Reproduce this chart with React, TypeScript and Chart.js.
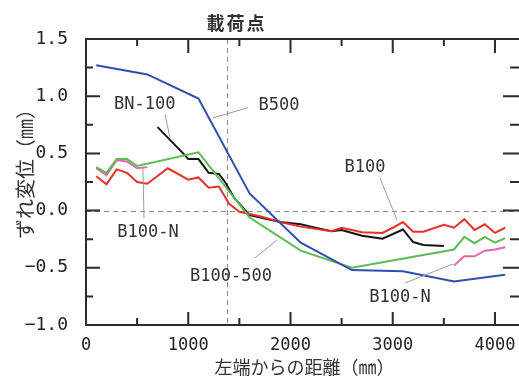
import { useEffect, useRef } from "react";
import { Chart, registerables } from "chart.js";

Chart.register(...registerables);

// ---- data (mm, mm) ----
const b500X = [100, 600, 1100, 1600, 2100, 2600, 3100, 3600, 4100];
const b500Y = [1.27, 1.19, 0.98, 0.15, -0.28, -0.52, -0.53, -0.62, -0.56];

const b100_500X = [100, 200, 300, 400, 500, 1100, 1600, 2100, 2600, 3600, 3700, 3800, 3900, 4000, 4100];
const b100_500Y = [0.38, 0.33, 0.45, 0.45, 0.39, 0.51, -0.06, -0.35, -0.5, -0.34, -0.23, -0.285, -0.23, -0.28, -0.24];

const b100X = [100, 200, 300, 400, 500, 600, 800, 1000, 1100, 1200, 1300, 1400, 1500, 1700, 1900, 2100, 2400, 2500, 2700, 2900, 3000, 3100, 3200, 3300, 3500, 3600, 3700, 3800, 3900, 4000, 4100];
const b100Y = [0.3, 0.23, 0.36, 0.33, 0.25, 0.235, 0.37, 0.27, 0.29, 0.2, 0.21, 0.06, -0.01, -0.05, -0.1, -0.14, -0.18, -0.15, -0.19, -0.195, -0.15, -0.1, -0.185, -0.185, -0.125, -0.15, -0.075, -0.17, -0.12, -0.195, -0.15];

const bn100X = [700, 950, 1000, 1100, 1200, 1300, 1360, 1450, 1600, 1900, 2100, 2200, 2400, 2500, 2700, 2900, 3100, 3200, 3300, 3500];
const bn100Y = [0.73, 0.5, 0.45, 0.45, 0.33, 0.32, 0.25, 0.11, -0.04, -0.1, -0.12, -0.14, -0.18, -0.17, -0.22, -0.245, -0.165, -0.275, -0.3, -0.31];

const b100nLeftX = [100, 200, 300, 400, 500, 600];
const b100nLeftY = [0.37, 0.31, 0.44, 0.43, 0.37, 0.38];
const b100nRightX = [3600, 3700, 3800, 3900, 4000, 4100];
const b100nRightY = [-0.48, -0.4, -0.4, -0.35, -0.34, -0.32];

const xTickValues = [0, 1000, 2000, 3000, 4000];
const yTickValues = [-1.0, -0.5, 0.0, 0.5, 1.0, 1.5];

const loadPointX = 1375;
const xMin = 0;
const xMax = 4235;
const yMin = -1.0;
const yMax = 1.5;
const xMajor = 1000;
const yMajor = 0.5;

const xTitle = "左端からの距離（㎜）";
const yTitle = "ずれ変位（㎜）";
const loadPointLabel = "載荷点";

// series labels with leader lines (data units)
const seriesLabels = [
  { text: "BN-100", tx: 575, ty: 0.93, x1: 773, y1: 0.84, x2: 821, y2: 0.64 },
  { text: "B500", tx: 1888, ty: 0.92, x1: 1242, y1: 0.81, x2: 1584, y2: 0.9 },
  { text: "B100", tx: 2729, ty: 0.38, x1: 2875, y1: 0.285, x2: 3042, y2: -0.082 },
  { text: "B100-N", tx: 606, ty: -0.196, x1: 557, y1: 0.372, x2: 567, y2: -0.065 },
  { text: "B100-500", tx: 1418, ty: -0.58, x1: 1653, y1: -0.414, x2: 1868, y2: -0.257 },
  { text: "B100-N", tx: 3071, ty: -0.764, x1: 3120, y1: -0.633, x2: 3589, y2: -0.467 },
];

const toPts = (xs: number[], ys: number[]) => xs.map((x, i) => ({ x, y: ys[i] }));

const MONO = '"DejaVu Sans Mono", monospace';
const CJK = '"Noto Sans CJK JP", sans-serif';

const decorPlugin = {
  id: "decor",
  beforeDatasetsDraw(chart: any) {
    const { ctx, chartArea: a, scales } = chart;
    const xs = scales.x;
    const ys = scales.y;
    ctx.save();
    ctx.strokeStyle = "#8a8a8a";
    ctx.lineWidth = 1;
    ctx.setLineDash([5, 4]);
    const lx = Math.round(xs.getPixelForValue(loadPointX)) + 0.5;
    ctx.beginPath();
    ctx.moveTo(lx, a.top);
    ctx.lineTo(lx, a.bottom);
    const zy = Math.round(ys.getPixelForValue(0)) + 0.5;
    ctx.moveTo(a.left, zy);
    ctx.lineTo(a.right, zy);
    ctx.stroke();
    ctx.restore();
  },
  afterDatasetsDraw(chart: any) {
    const { ctx, chartArea: a, scales } = chart;
    const xs = scales.x;
    const ys = scales.y;
    ctx.save();
    // leader lines
    ctx.strokeStyle = "#9a9a9a";
    ctx.lineWidth = 1;
    ctx.beginPath();
    for (const l of seriesLabels) {
      ctx.moveTo(xs.getPixelForValue(l.x1), ys.getPixelForValue(l.y1));
      ctx.lineTo(xs.getPixelForValue(l.x2), ys.getPixelForValue(l.y2));
    }
    ctx.stroke();
    // frame
    ctx.strokeStyle = "#2b2b2b";
    ctx.lineWidth = 2;
    ctx.beginPath();
    ctx.moveTo(a.right, a.top);
    ctx.lineTo(a.left, a.top);
    ctx.lineTo(a.left, a.bottom);
    ctx.lineTo(a.right, a.bottom);
    ctx.stroke();
    // ticks
    ctx.beginPath();
    for (let v = xMin; v <= xMax + 1e-6; v += xMajor / 2) {
      const major = Math.abs(v / xMajor - Math.round(v / xMajor)) < 1e-6;
      const px = xs.getPixelForValue(v);
      if (px <= a.left + 1) continue;
      const lb = major ? 13 : 7;
      const lt = major ? 14 : 7;
      ctx.moveTo(px, a.bottom);
      ctx.lineTo(px, a.bottom - lb);
      ctx.moveTo(px, a.top);
      ctx.lineTo(px, a.top + lt);
    }
    for (let v = yMin; v <= yMax + 1e-6; v += yMajor / 2) {
      const major = Math.abs(v / yMajor - Math.round(v / yMajor)) < 1e-6;
      const py = ys.getPixelForValue(v);
      if (py >= a.bottom - 1 || py <= a.top + 1) continue;
      const ll = major ? 14 : 7;
      const lr = major ? 16 : 9;
      ctx.moveTo(a.left, py);
      ctx.lineTo(a.left + ll, py);
      ctx.moveTo(a.right, py);
      ctx.lineTo(a.right - lr, py);
    }
    ctx.stroke();
    // series labels
    ctx.fillStyle = "#333";
    ctx.font = `17px ${MONO}`;
    ctx.textAlign = "center";
    ctx.textBaseline = "middle";
    for (const l of seriesLabels) {
      ctx.fillText(l.text, xs.getPixelForValue(l.tx), ys.getPixelForValue(l.ty));
    }
    // load point label
    ctx.font = `bold 18px ${CJK}`;
    try { (ctx as any).letterSpacing = "2px"; } catch (e) {}
    ctx.fillText(loadPointLabel, xs.getPixelForValue(loadPointX) + 10, a.top - 16);
    try { (ctx as any).letterSpacing = "0px"; } catch (e) {}
    // axis titles
    ctx.font = `18px ${CJK}`;
    ctx.fillText(xTitle, (a.left + a.right) / 2 + 2, a.bottom + 42);
    ctx.translate(25, (a.top + a.bottom) / 2 - 13);
    ctx.rotate(-Math.PI / 2);
    ctx.font = `20px ${CJK}`;
    ctx.fillText(yTitle, 0, 0);
    ctx.restore();
  },
};

export default function App() {
  const ref = useRef<HTMLCanvasElement | null>(null);
  useEffect(() => {
    if (!ref.current) return;
    const lineDs = (label: string, xs: number[], ys: number[], color: string) => ({
      label,
      data: toPts(xs, ys),
      borderColor: color,
      backgroundColor: color,
      borderWidth: 2,
      pointRadius: 0,
      tension: 0,
      fill: false,
    });
    const chart = new Chart(ref.current, {
      type: "line",
      data: {
        datasets: [
          lineDs("B500", b500X, b500Y, "#2f4fae"),
          lineDs("B100-500", b100_500X, b100_500Y, "#5dbb55"),
          lineDs("B100-N", b100nLeftX, b100nLeftY, "#e466a6"),
          lineDs("B100-N", b100nRightX, b100nRightY, "#e466a6"),
          lineDs("B100", b100X, b100Y, "#e6302a"),
          lineDs("BN-100", bn100X, bn100Y, "#141414"),
        ],
      },
      options: {
        responsive: false,
        animation: false,
        layout: { padding: { top: 39, right: 0, left: 0, bottom: 0 } },
        plugins: { legend: { display: false }, tooltip: { enabled: false } },
        scales: {
          x: {
            type: "linear",
            min: xMin,
            max: xMax,
            grid: { display: false },
            border: { display: false },
            afterFit: (s: any) => { s.height = 53; },
            afterBuildTicks: (s: any) => { s.ticks = xTickValues.map((value) => ({ value })); },
            ticks: {
              autoSkip: false,
              maxRotation: 0,
              padding: 2,
              color: "#222",
              font: { family: MONO, size: 17 },
              callback: (v: any) => String(v),
            },
          },
          y: {
            type: "linear",
            min: yMin,
            max: yMax,
            grid: { display: false },
            border: { display: false },
            afterFit: (s: any) => { s.width = 86; },
            afterBuildTicks: (s: any) => { s.ticks = yTickValues.map((value) => ({ value })); },
            ticks: {
              autoSkip: false,
              padding: 10,
              color: "#222",
              font: { family: MONO, size: 18 },
              callback: (v: any) => Number(v).toFixed(1).replace("-", "−"),
            },
          },
        },
      },
      plugins: [decorPlugin],
    } as any);
    return () => chart.destroy();
  }, []);
  return (
    <div style={{ position: "fixed", left: 0, top: 0, width: 519, height: 378, background: "#fff" }}>
      <canvas ref={ref} width={519} height={378} style={{ display: "block" }} />
    </div>
  );
}
